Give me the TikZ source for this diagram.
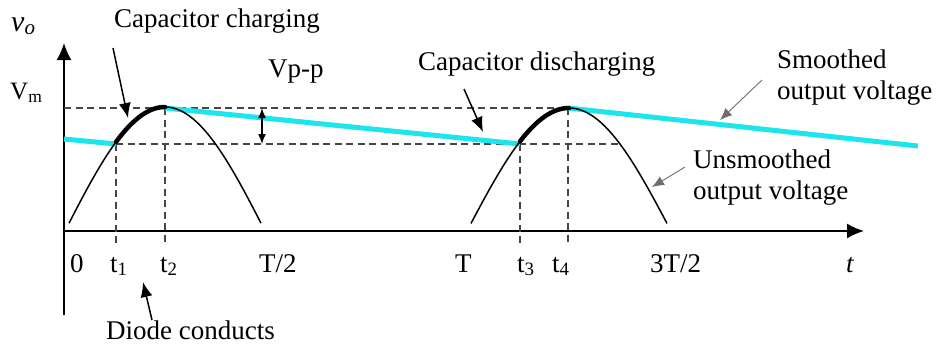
\documentclass[tikz,border=0pt]{standalone}
\usepackage{fontspec}
\setmainfont{Liberation Serif}
\usetikzlibrary{arrows.meta}
\definecolor{cyanline}{RGB}{30,228,238}
\definecolor{dashgray}{RGB}{70,70,70}
\definecolor{thingray}{RGB}{110,110,110}
\tikzset{
  axisline/.style={line width=1.8pt, -{Latex[length=17pt,width=15pt]}},
  hump/.style={line width=1.5pt},
  chargeseg/.style={line width=4.5pt, line cap=round},
  cyanstyle/.style={cyanline, line width=5pt},
  guide/.style={dashgray, line width=1.8pt, dash pattern=on 7pt off 4.5pt},
  bigarrow/.style={line width=1.5pt, -{Latex[length=15pt,width=12pt]}},
  thinarrow/.style={thingray, line width=0.9pt, -{Latex[length=12pt,width=10pt]}},
  ppharrow/.style={line width=1.5pt, {Latex[length=10pt,width=8pt]}-{Latex[length=10pt,width=8pt]}},
  lbl/.style={font=\fontsize{27}{31}\selectfont, inner sep=0pt, anchor=base west},
  tick/.style={font=\fontsize{27}{31}\selectfont, inner sep=0pt, anchor=base west},
}
\begin{document}
\begin{tikzpicture}[x=1pt,y=-1pt]
\useasboundingbox (0,0) rectangle (938,349);
% axes
\coordinate (O) at (64,231);
\coordinate (ytop) at (64,43);
\coordinate (ybot) at (64,315);
\coordinate (xend) at (864,231);
\draw[axisline] (ybot) -- (ytop);
\draw[axisline] (O) -- (xend);
% guide lines
\coordinate (vmL) at (64,108);
\coordinate (vmR) at (568,108);
\coordinate (lowL) at (116,144);
\coordinate (lowR) at (618,144);
\draw[guide] (vmL) -- (vmR);
\draw[guide] (lowL) -- (lowR);
\coordinate (t1a) at (116,144); \coordinate (t1b) at (116,243);
\coordinate (t2a) at (165,108); \coordinate (t2b) at (165,243);
\coordinate (t3a) at (520,144); \coordinate (t3b) at (520,243);
\coordinate (t4a) at (568,108); \coordinate (t4b) at (568,243);
\draw[guide] (t1a) -- (t1b);
\draw[guide] (t2a) -- (t2b);
\draw[guide] (t3a) -- (t3b);
\draw[guide] (t4a) -- (t4b);
% smoothed output (cyan)
\coordinate (c0) at (64,139);
\coordinate (c1) at (116,144);
\coordinate (c2) at (165,108);
\coordinate (c3) at (520,144);
\coordinate (c4) at (568,108);
\coordinate (c5) at (918,146);
\draw[cyanstyle] (c0) -- (c1);
\draw[cyanstyle] (c2) -- (c3);
\draw[cyanstyle] (c4) -- (c5);
% humps
\draw[hump] plot[domain=69:261, samples=80] (\x, {231-124*sin(0.9*(\x-65))});
\draw[hump] plot[domain=471:667, samples=80] (\x, {231-123*sin(0.88235*(\x-467))});
\draw[chargeseg] plot[domain=116:165, samples=30] (\x, {231-124*sin(0.9*(\x-65))});
\draw[chargeseg] plot[domain=520:569, samples=30] (\x, {231-123*sin(0.88235*(\x-467))});
% Vp-p arrow
\coordinate (ppTop) at (262,108);
\coordinate (ppBot) at (262,144);
\draw[ppharrow] (ppTop) -- (ppBot);
% labels
\node[font=\fontsize{30}{32}\selectfont, inner sep=0pt, anchor=base west] (vo) at (11,31) {\textit{v}\textsubscript{\textit{o}}};
\node[font=\fontsize{25}{28}\selectfont, inner sep=0pt, anchor=base west] (vm) at (10,99) {V\textsubscript{m}};
\node[lbl] (charging) at (114,27) {Capacitor charging};
\node[lbl] (vpp) at (268,77) {Vp-p};
\node[lbl] (discharging) at (418,70) {Capacitor discharging};
\node[lbl] (smoothed) at (777,68) {Smoothed};
\node[lbl] (smoothed2) at (777,99) {output voltage};
\node[lbl] (unsmoothed) at (693,168) {Unsmoothed};
\node[lbl] (unsmoothed2) at (693,199) {output voltage};
\node[lbl] (diode) at (106,339) {Diode conducts};
% tick labels
\node[tick] (l0) at (70,272) {0};
\node[tick] (lt1) at (110,272) {t\textsubscript{1}};
\node[tick] (lt2) at (160,272) {t\textsubscript{2}};
\node[tick] (lT2) at (259,272) {T/2};
\node[tick] (lT) at (455,272) {T};
\node[tick] (lt3) at (517,272) {t\textsubscript{3}};
\node[tick] (lt4) at (552,272) {t\textsubscript{4}};
\node[tick] (l3T2) at (650,272) {3T/2};
\node[tick] (lt) at (846,272) {\textit{t}};
% pointer arrows
\coordinate (chT) at (113,48); \coordinate (chH) at (128,118);
\draw[bigarrow] (chT) -- (chH);
\coordinate (dcT) at (464,89); \coordinate (dcH) at (483,132);
\draw[bigarrow] (dcT) -- (dcH);
\coordinate (doT) at (152,320); \coordinate (doH) at (143,282);
\draw[bigarrow] (doT) -- (doH);
\coordinate (smT) at (762,80); \coordinate (smH) at (720,120);
\draw[thinarrow] (smT) -- (smH);
\coordinate (usT) at (685,167); \coordinate (usH) at (652,187);
\draw[thinarrow] (usT) -- (usH);
\end{tikzpicture}
\end{document}
